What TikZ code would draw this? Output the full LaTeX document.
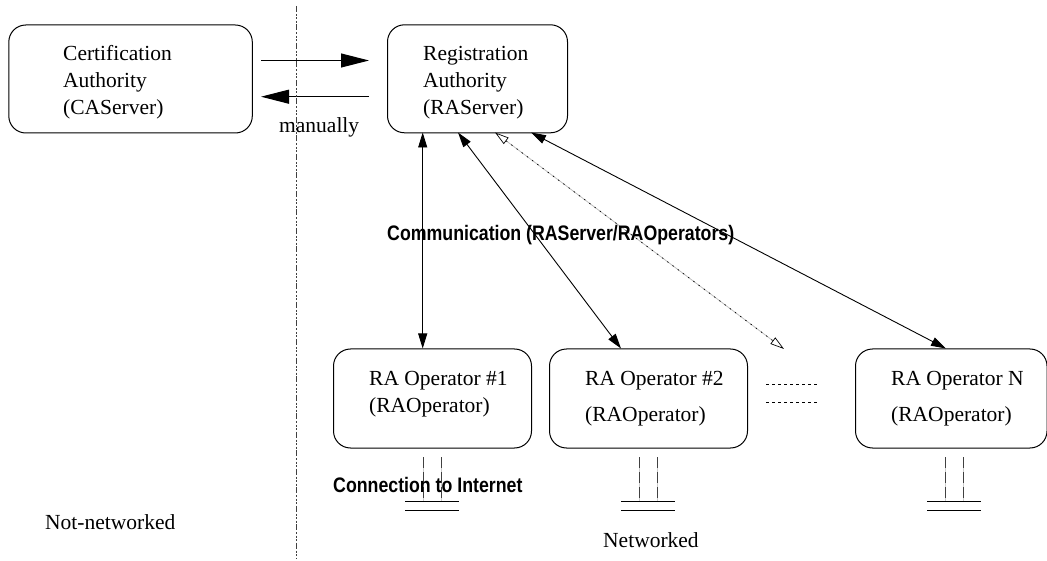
\documentclass[tikz,border=0pt]{standalone}
\usepackage{fontspec}
\setmainfont{Liberation Serif}
\newfontfamily\helv[FakeStretch=0.845]{Liberation Sans}
\usetikzlibrary{arrows.meta}
\tikzset{
  x=1pt,y=-1pt,
  box/.style={draw,line width=1pt,rounded corners=17pt,inner sep=0pt},
  lbl/.style={anchor=base west,inner sep=0pt,font=\fontsize{21.5}{24}\selectfont},
  bold/.style={anchor=base west,inner sep=0pt,font=\helv\fontsize{21}{24}\selectfont\bfseries},
  big/.style={line width=1pt,-{Triangle[length=28pt,width=14pt]}},
  both/.style={line width=0.9pt,{Triangle[length=15pt,width=9pt]}-{Triangle[length=15pt,width=9pt]}},
  hollowbase/.style={line width=0.8pt,black!25,shorten <=10pt,shorten >=10pt},
  hollow/.style={line width=0.7pt,dash pattern=on 1.5pt off 5pt,{Triangle[open,length=14pt,width=8pt,fill=white,line width=0.7pt]}-{Triangle[open,length=14pt,width=8pt,fill=white,line width=0.7pt]}},
  netbase/.style={line width=0.8pt,black!20},
  net/.style={line width=0.8pt,black!75,dash pattern=on 11pt off 4pt},
  bar/.style={line width=0.9pt},
  dots/.style={line width=0.6pt,dash pattern=on 3pt off 3pt},
  divider/.style={line width=0.8pt,black!75,dash pattern=on 6pt off 2pt on 2pt off 1.5pt on 2pt off 1.5pt on 2pt off 1.5pt},
}
\begin{document}
\begin{tikzpicture}
\useasboundingbox (0,0) rectangle (1047,561);
\node[box,anchor=north west,minimum width=243.5pt,minimum height=108pt] (ca) at (8.3,24.5) {};
\node[box,anchor=north west,minimum width=180pt,minimum height=108pt] (ra) at (387,24.3) {};
\node[box,anchor=north west,minimum width=198pt,minimum height=99pt] (op1) at (333,348.5) {};
\node[box,anchor=north west,minimum width=198pt,minimum height=99pt] (op2) at (549,348.5) {};
\node[box,anchor=north west,minimum width=191.5pt,minimum height=99pt] (opn) at (855,348.5) {};
% connectors
\coordinate (a1s) at (261,60.5); \coordinate (a1e) at (369,60.5);
\coordinate (a2s) at (369,96.7); \coordinate (a2e) at (261,96.7);
\draw[big] (a1s) -- (a1e);
\draw[big] (a2s) -- (a2e);
\coordinate (d1) at (296.7,6); \coordinate (d2) at (296.7,558);
\draw[divider] (d1) -- (d2);
\coordinate (b1) at (422.7,132.5); \coordinate (b2) at (422.7,348.5);
\coordinate (c1) at (458,132.5); \coordinate (c2) at (621,348.5);
\coordinate (e1) at (495,132.5); \coordinate (e2) at (784,349);
\coordinate (f1) at (531,132.5); \coordinate (f2) at (946,348.5);
\draw[both] (b1) -- (b2);
\draw[both] (c1) -- (c2);
\draw[hollowbase] (e1) -- (e2);
\draw[hollow] (e1) -- (e2);
\draw[both] (f1) -- (f2);
\draw[dots] (766,384) -- (819,384);
\draw[dots] (766,402.5) -- (819,402.5);
\foreach \x in {423,639,945}{
  \draw[netbase] (\x,457) -- (\x,501.5);
  \draw[netbase] (\x+18,457) -- (\x+18,501.5);
  \draw[net] (\x,457) -- (\x,501.5);
  \draw[net] (\x+18,457) -- (\x+18,501.5);
  \draw[bar] (\x-18,501.7) -- (\x+36,501.7);
  \draw[bar] (\x-18,510.7) -- (\x+36,510.7);
}
% texts
\node[lbl] (t1) at (63,61) {Certification};
\node[lbl] (t2) at (63,88) {Authority};
\node[lbl] (t3) at (63,115) {(CAServer)};
\node[lbl] (t4) at (423,61) {Registration};
\node[lbl] (t5) at (423,88) {Authority};
\node[lbl] (t6) at (423,115) {(RAServer)};
\node[lbl] (t7) at (369,385) {RA Operator \#1};
\node[lbl] (t8) at (369,412) {(RAOperator)};
\node[lbl] (t9) at (585,385) {RA Operator \#2};
\node[lbl] (t10) at (585,421) {(RAOperator)};
\node[lbl] (t11) at (891,385) {RA Operator N};
\node[lbl] (t12) at (891,421) {(RAOperator)};
\node[lbl] (t13) at (279,133) {manually};
\node[lbl] (t14) at (45,529) {Not-networked};
\node[lbl] (t15) at (603,547) {Networked};
\node[bold] (t16) at (387,241) {Communication (RAServer/RAOperators)};
\node[bold] (t17) at (333,492) {Connection to Internet};
\end{tikzpicture}
\end{document}
